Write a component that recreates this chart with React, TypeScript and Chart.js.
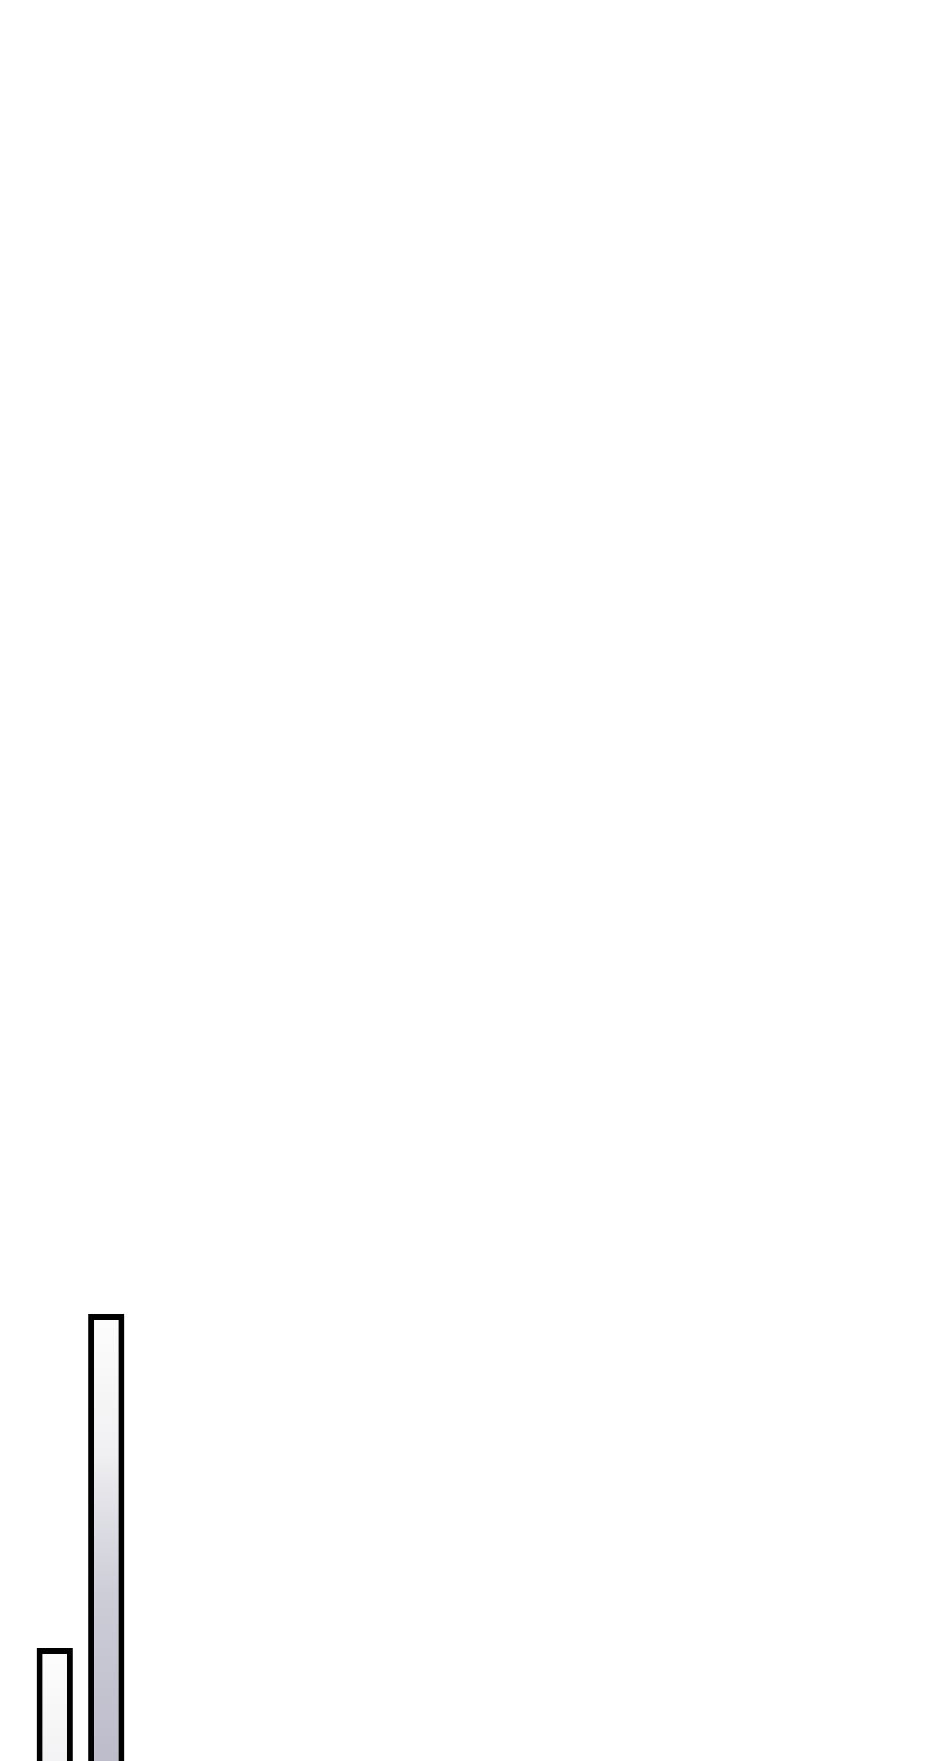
import React, { useEffect, useRef } from 'react';
import { Chart, registerables } from 'chart.js';

Chart.register(...registerables);

const categories = ['A', 'B'];
const values = [18, 34.7];
const yMin = 0;
const yMax = 100;

const App: React.FC = () => {
  const chartRef = useRef<HTMLCanvasElement>(null);
  const chartInstance = useRef<Chart | null>(null);

  useEffect(() => {
    if (!chartRef.current) return;
    if (chartInstance.current) {
      chartInstance.current.destroy();
    }
    const ctx = chartRef.current.getContext('2d');
    if (!ctx) return;

    // each bar fades from white at its top down to a grey-lavender
    const barFill = (c: any) => {
      const chart = c.chart;
      const yScale = chart.scales?.y;
      if (!chart.chartArea || !yScale || c.raw == null) return '#e0e0e8';
      const top = yScale.getPixelForValue(c.raw);
      const g = chart.ctx.createLinearGradient(0, top, 0, top + 700);
      g.addColorStop(0, '#fdfdfd');
      g.addColorStop(0.2, '#f0f0f2');
      g.addColorStop(0.28, '#e0e0e6');
      g.addColorStop(0.4, '#cdcdd8');
      g.addColorStop(0.64, '#bcbccb');
      g.addColorStop(1, '#b0b0c2');
      return g;
    };

    chartInstance.current = new Chart(ctx, {
      type: 'bar',
      data: {
        labels: categories,
        datasets: [{
          data: values,
          backgroundColor: barFill,
          borderColor: '#000000',
          borderWidth: 6,
          barPercentage: 0.88,
        }]
      },
      options: {
        animation: false,
        responsive: true,
        maintainAspectRatio: false,
        layout: {
          padding: { left: 21, right: 0, top: 0, bottom: 0 },
        },
        plugins: {
          legend: { display: false },
          tooltip: { enabled: false },
        },
        scales: {
          x: { display: false },
          y: { display: false, min: yMin, max: yMax },
        }
      }
    });

    return () => {
      if (chartInstance.current) {
        chartInstance.current.destroy();
        chartInstance.current = null;
      }
    };
  }, []);

  return (
    <div style={{ width: 124, height: 2000, position: 'relative' }}>
      <canvas ref={chartRef}></canvas>
    </div>
  );
};

export default App;
